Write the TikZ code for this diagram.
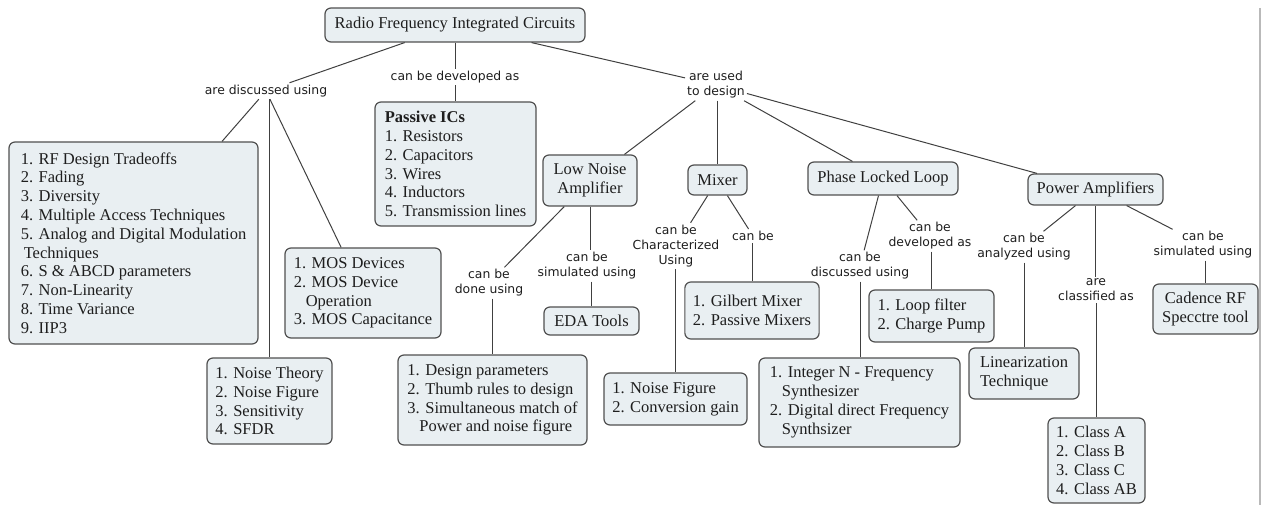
\documentclass[tikz,border=0pt]{standalone}
\usepackage{fontspec}
\setmainfont{Liberation Serif}
\newfontfamily\labfont{DejaVu Sans}
\definecolor{boxfill}{HTML}{E9EFF2}
\definecolor{boxborder}{HTML}{505050}
\definecolor{linecol}{HTML}{404040}
\definecolor{txtcol}{HTML}{1E1E1E}
\begin{document}
\begin{tikzpicture}[x=1pt,y=-1pt,
  box/.style={draw=boxborder, fill=boxfill, rounded corners=6pt, line width=1.2pt,
    inner xsep=8pt, inner ysep=2pt, text=txtcol,
    font=\fontsize{16.5}{18.8}\selectfont, align=left},
  lab/.style={font=\labfont\fontsize{12.4}{15}\selectfont, align=center, inner sep=2pt, text=txtcol},
  conn/.style={draw=linecol, line width=1pt}]
\useasboundingbox (0,0) rectangle (1262,505);

% boxes
\node[box, align=center, minimum width=260pt, minimum height=34pt] (root) at (455,25) {Radio Frequency Integrated Circuits};
\node[box, minimum width=161pt, minimum height=124pt] (passive) at (455.5,164) {\textbf{Passive ICs}\\1. Resistors\\2. Capacitors\\3. Wires\\4. Inductors\\5. Transmission lines};
\node[box, minimum width=249pt, minimum height=202pt] (big) at (133.5,243) {1. RF Design Tradeoffs\\2. Fading\\3. Diversity\\4. Multiple Access Techniques\\5. Analog and Digital Modulation\\\hspace*{3pt}Techniques\\6. S \& ABCD parameters\\7. Non-Linearity\\8. Time Variance\\9. IIP3};
\node[box, minimum width=125pt, minimum height=86pt] (noise) at (269.5,401) {1. Noise Theory\\2. Noise Figure\\3. Sensitivity\\4. SFDR};
\node[box, minimum width=156pt, minimum height=90pt] (mos) at (363,293) {1. MOS Devices\\2. MOS Device\\\hspace*{12pt}Operation\\3. MOS Capacitance};
\node[box, align=center, minimum width=94pt, minimum height=51pt] (lna) at (590,180.5) {Low Noise\\Amplifier};
\node[box, align=center, minimum width=59pt, minimum height=30pt] (mixer) at (717.5,180) {Mixer};
\node[box, align=center, minimum width=150pt, minimum height=33pt] (pll) at (883,178.5) {Phase Locked Loop};
\node[box, align=center, minimum width=135pt, minimum height=31pt] (pa) at (1095.5,189.5) {Power Amplifiers};
\node[box, minimum width=189pt, minimum height=90pt] (design) at (492.5,400) {1. Design parameters\\2. Thumb rules to design\\3. Simultaneous match of\\\hspace*{12pt}Power and noise figure};
\node[box, align=center, minimum width=95pt, minimum height=28pt] (eda) at (591.5,321) {EDA Tools};
\node[box, minimum width=143pt, minimum height=52pt] (nfcg) at (675.5,399) {1. Noise Figure\\2. Conversion gain};
\node[box, minimum width=134pt, minimum height=57pt] (gilbert) at (752,310.5) {1. Gilbert Mixer\\2. Passive Mixers};
\node[box, minimum width=201pt, minimum height=89pt] (integer) at (859.5,402.5) {1. Integer N - Frequency\\\hspace*{12pt}Synthesizer\\2. Digital direct Frequency\\\hspace*{12pt}Synthsizer};
\node[box, minimum width=125pt, minimum height=52pt] (loop) at (931.5,316) {1. Loop filter\\2. Charge Pump};
\node[box, minimum width=110pt, minimum height=51pt] (linear) at (1024,373.5) {Linearization\\Technique};
\node[box, minimum width=97pt, minimum height=85pt] (class) at (1096.5,460.5) {1. Class A\\2. Class B\\3. Class C\\4. Class AB};
\node[box, align=center, minimum width=105pt, minimum height=50pt] (cadence) at (1205.5,309) {Cadence RF\\Specctre tool};

% labels
\node[lab] (l_disc) at (266,91) {are discussed using};
\node[lab] (l_dev) at (455,77) {can be developed as};
\node[lab] (l_used) at (716,85) {are used\\to design};
\node[lab] (l_lna1) at (489,283) {can be\\done using};
\node[lab] (l_lna2) at (587,266) {can be\\simulated using};
\node[lab] (l_mix1) at (676,246) {can be\\Characterized\\Using};
\node[lab] (l_mix2) at (753,236) {can be};
\node[lab] (l_pll1) at (860,266) {can be\\discussed using};
\node[lab] (l_pll2) at (930,236) {can be\\developed as};
\node[lab] (l_pa1) at (1024,247) {can be\\analyzed using};
\node[lab] (l_pa2) at (1096,290) {are\\classified as};
\node[lab] (l_pa3) at (1203,245) {can be\\simulated using};

% connectors
\draw[conn] (root) -- (l_disc);
\draw[conn] (l_disc) -- (big);
\draw[conn] (l_disc.south -| noise.north) -- (noise.north);
\draw[conn] (l_disc) -- (mos);
\draw[conn] (root.south -| l_dev.north) -- (l_dev.north);
\draw[conn] (l_dev.south) -- (l_dev.south |- passive.north);
\draw[conn] (root) -- (l_used);
\draw[conn] (l_used) -- (lna);
\draw[conn] (l_used.south -| mixer.north) -- (mixer.north);
\draw[conn] (l_used) -- (pll);
\draw[conn] (l_used) -- (pa);
\draw[conn] (lna) -- (l_lna1);
\draw[conn] (l_lna1.south -| design.north) -- (design.north);
\draw[conn] (lna.south) -- (lna.south |- l_lna2.north);
\draw[conn] (l_lna2.south -| eda.north) -- (eda.north);
\draw[conn] (mixer) -- (l_mix1);
\draw[conn] (l_mix1.south -| nfcg.north) -- (nfcg.north);
\draw[conn] (mixer) -- (l_mix2);
\draw[conn] (l_mix2.south -| gilbert.north) -- (gilbert.north);
\draw[conn] (pll) -- (l_pll1);
\draw[conn] (l_pll1.south) -- (l_pll1.south |- integer.north);
\draw[conn] (pll) -- (l_pll2);
\draw[conn] (l_pll2.south -| loop.north) -- (loop.north);
\draw[conn] (pa) -- (l_pa1);
\draw[conn] (l_pa1.south -| linear.north) -- (linear.north);
\draw[conn] (pa.south) -- (pa.south |- l_pa2.north);
\draw[conn] (l_pa2.south -| class.north) -- (class.north);
\draw[conn] (pa) -- (l_pa3);
\draw[conn] (l_pa3.south -| cadence.north) -- (cadence.north);

% right edge rule
\coordinate (edgetop) at (1260,8);
\coordinate (edgebot) at (1260,505);
\draw[gray!55, line width=1.2pt] (edgetop) -- (edgebot);
\end{tikzpicture}
\end{document}
